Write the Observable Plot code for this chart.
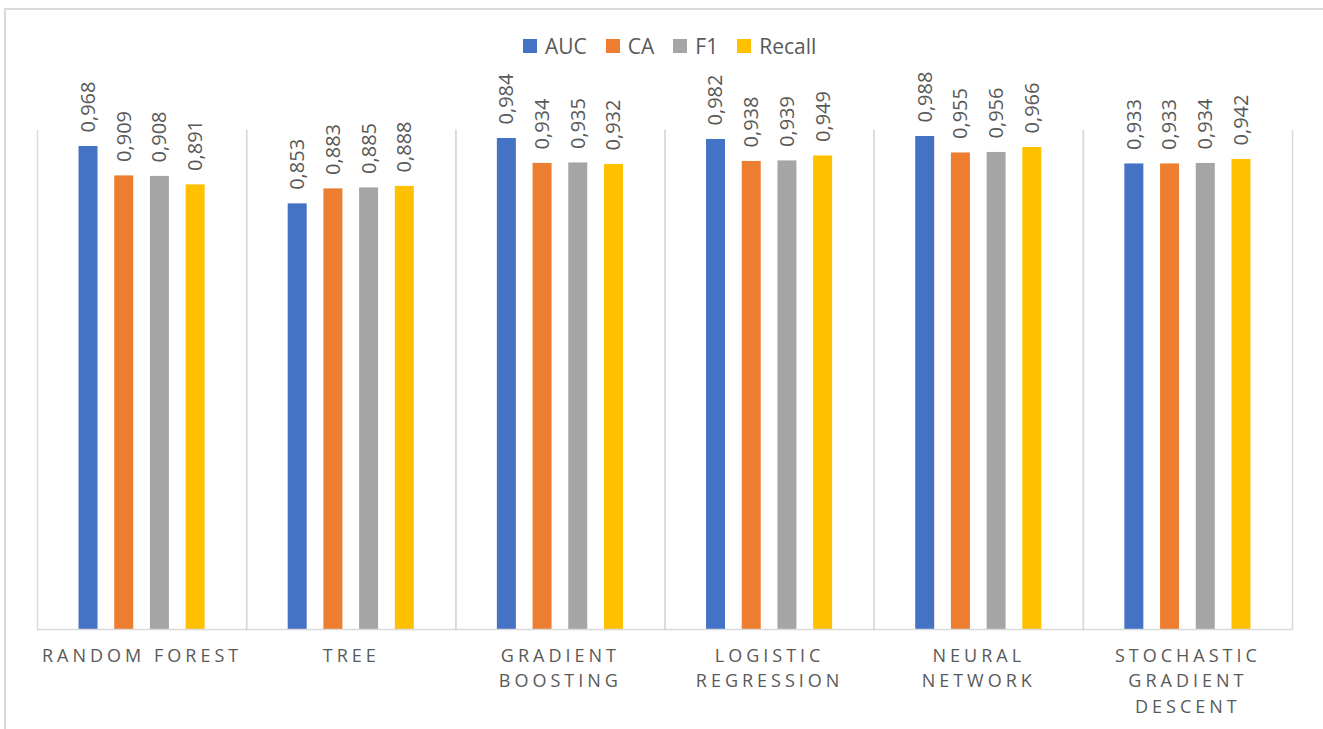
<!DOCTYPE html>
<html>
<head>
<meta charset="utf-8">
<script src="https://cdn.jsdelivr.net/npm/d3@7"></script>
<script src="https://cdn.jsdelivr.net/npm/@observablehq/plot@0.6"></script>
<style>
  html, body { margin: 0; padding: 0; background: #fff; overflow: hidden; }
  #wrap { position: relative; width: 1323px; height: 729px; font-family: "Open Sans", sans-serif; }
  #border { position: absolute; left: 4px; top: 8px; width: 1330px; height: 740px; border: 2px solid #dadada; box-sizing: border-box; }
  #legend { position: absolute; left: 523px; top: 32px; display: flex; align-items: center; height: 28px; color: #595959; font-size: 21px; }
  #legend .item { display: flex; align-items: center; margin-right: 19px; }
  #legend .sw { width: 14px; height: 14px; margin-right: 8px; }
  #chart { position: absolute; left: 0; top: 0; }
</style>
</head>
<body>
<div id="wrap">
  <div id="border"></div>
  <div id="legend"></div>
  <div id="chart"></div>
</div>
<script>
const categories = ["RANDOM FOREST", "TREE", "GRADIENT BOOSTING", "LOGISTIC REGRESSION", "NEURAL NETWORK", "STOCHASTIC GRADIENT DESCENT"];
const categoryLabels = ["RANDOM FOREST", "TREE", "GRADIENT\nBOOSTING", "LOGISTIC\nREGRESSION", "NEURAL\nNETWORK", "STOCHASTIC\nGRADIENT\nDESCENT"];
const metrics = ["AUC", "CA", "F1", "Recall"];
const auc = [0.968, 0.853, 0.984, 0.982, 0.988, 0.933];
const ca = [0.909, 0.883, 0.934, 0.938, 0.955, 0.933];
const f1 = [0.908, 0.885, 0.935, 0.939, 0.956, 0.934];
const recall = [0.891, 0.888, 0.932, 0.949, 0.966, 0.942];
const colors = ["#4472C4", "#ED7D31", "#A5A5A5", "#FFC000"];

const series = [auc, ca, f1, recall];
const data = [];
categories.forEach((c, i) => {
  metrics.forEach((m, j) => data.push({model: c, metric: m, value: series[j][i]}));
});
const labelData = categories.map((c, i) => ({model: c, label: categoryLabels[i]}));
const fmt = v => d3.format(".3f")(v).replace(".", ",");

const chart = Plot.plot({
  width: 1323,
  height: 729,
  marginLeft: 37,
  marginRight: 31,
  marginTop: 130,
  marginBottom: 100,
  style: {background: "transparent", fontFamily: "Open Sans, sans-serif"},
  fx: {domain: categories, padding: 0, round: false, axis: null},
  x: {domain: metrics, paddingInner: 0.468, paddingOuter: 1.163, round: false, axis: null},
  y: {domain: [0, 1], axis: null},
  color: {domain: metrics, range: colors},
  marks: [
    Plot.frame({anchor: "left", stroke: "#d9d9d9", strokeWidth: 1.5}),
    Plot.frame({anchor: "right", stroke: "#d9d9d9", strokeWidth: 1.5}),
    Plot.barY(data, {fx: "model", x: "metric", y: "value", fill: "metric"}),
    Plot.ruleY([0], {stroke: "#d9d9d9", strokeWidth: 1.5}),
    Plot.text(data, {
      fx: "model", x: "metric", y: "value", text: d => fmt(d.value),
      rotate: -90, textAnchor: "start", lineAnchor: "middle",
      dy: -14, fontSize: 20, fill: "#595959"
    }),
    Plot.text(labelData, {
      fx: "model", text: "label", frameAnchor: "bottom", lineAnchor: "top",
      dy: 14, fontSize: 18, lineHeight: 1.42, fill: "#595959"
    })
  ]
});
document.getElementById("chart").appendChild(chart);
d3.select(chart).selectAll('g[font-size="18"] text').style("letter-spacing", "4px");

const legend = document.getElementById("legend");
metrics.forEach((m, j) => {
  const item = document.createElement("div");
  item.className = "item";
  const sw = document.createElement("div");
  sw.className = "sw";
  sw.style.background = colors[j];
  const t = document.createElement("span");
  t.textContent = m;
  item.appendChild(sw);
  item.appendChild(t);
  legend.appendChild(item);
});
</script>
</body>
</html>
